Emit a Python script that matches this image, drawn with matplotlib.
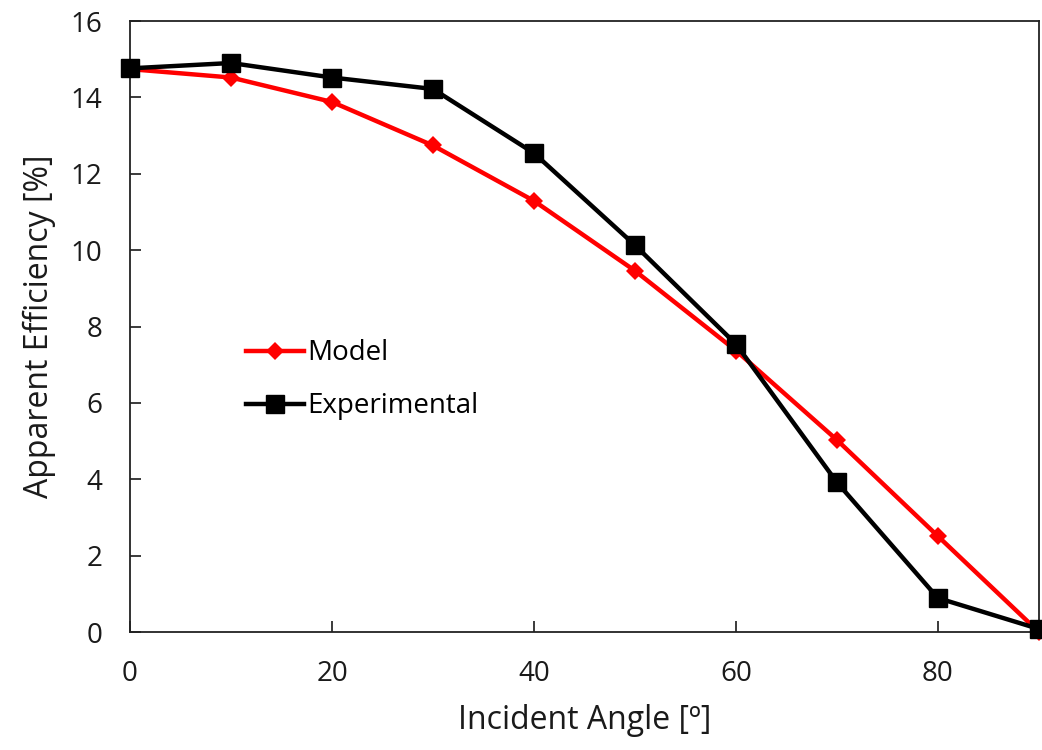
import matplotlib
matplotlib.use("Agg")
import matplotlib.pyplot as plt

plt.rcParams['font.family'] = ['Open Sans', 'DejaVu Sans']

angles = [0, 10, 20, 30, 40, 50, 60, 70, 80, 90]
model = [14.74, 14.52, 13.88, 12.74, 11.29, 9.46, 7.37, 5.03, 2.51, 0.0]
experimental = [14.76, 14.90, 14.52, 14.22, 12.54, 10.13, 7.54, 3.92, 0.89, 0.08]

fig = plt.figure(figsize=(10.42, 7.5), dpi=100)
ax = fig.add_axes([0.1248, 0.1573, 0.8722, 0.8147])

ax.plot(angles, model, color='#ff0000', lw=3.2, marker='D', ms=9, mew=0,
        label='Model', clip_on=False, zorder=3)
ax.plot(angles, experimental, color='black', lw=3.2, marker='s', ms=13,
        label='Experimental', clip_on=False, zorder=4)

ax.set_xlim(0, 90)
ax.set_ylim(0, 16)
ax.set_xticks([0, 20, 40, 60, 80])
ax.set_yticks(range(0, 17, 2))
ax.tick_params(direction='in', length=8, width=1.2, labelsize=20, pad=20,
               colors='#1a1a1a')
for s in ax.spines.values():
    s.set_linewidth(1.3)
    s.set_color('#222222')

ax.set_xlabel('Incident Angle [º]', fontsize=23, labelpad=12, color='#1a1a1a')
ax.set_ylabel('Apparent Efficiency [%]', fontsize=23, labelpad=10, color='#1a1a1a')

ax.legend(loc='upper left', bbox_to_anchor=(0.10, 0.52), frameon=False,
          fontsize=20, handlelength=2.1, handletextpad=0.1, labelspacing=0.9)

fig.savefig('out.png', dpi=100)
